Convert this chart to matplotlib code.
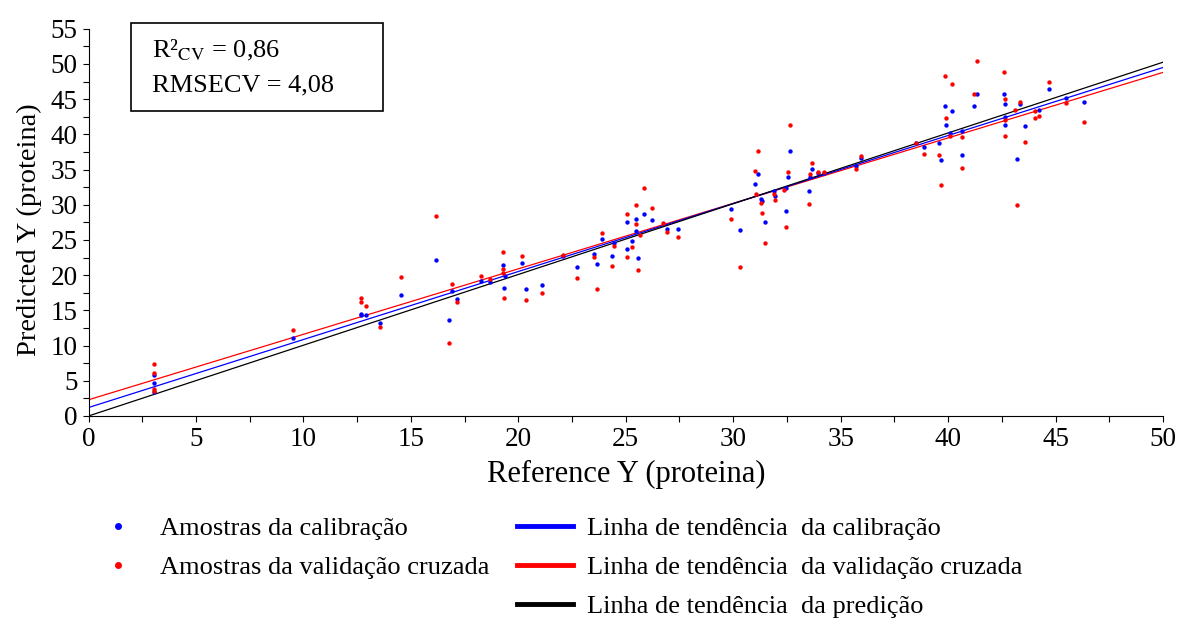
#!/usr/bin/env python3
import matplotlib
matplotlib.use('Agg')
import matplotlib.pyplot as plt
from matplotlib.lines import Line2D
from matplotlib.patches import Rectangle
import numpy as np

plt.rcParams['font.family'] = ['Liberation Serif', 'DejaVu Serif']
plt.rcParams['mathtext.fontset'] = 'stix'

# Amostras da calibracao (reference, predicted)
cal_x = [3.05, 3.05, 3.05, 9.5, 12.7, 12.7, 12.9, 13.56, 14.53, 16.16, 16.9, 16.77, 17.17,
         18.27, 18.7, 19.31, 19.39, 19.33, 20.18, 20.35, 21.1, 22.06, 22.74, 23.53, 23.68,
         23.9, 24.38, 24.46, 25.06, 25.06, 25.5, 25.48, 25.3, 25.56, 25.85, 26.2, 26.92, 27.43,
         29.9, 30.3, 31.15, 31.0, 31.3, 31.34, 31.5, 31.9, 31.95, 32.47, 32.47, 32.55, 32.66,
         33.53, 33.56, 33.65, 33.95, 34.22, 35.73, 35.96, 38.49, 38.9, 39.6, 39.65, 39.87, 40.2,
         39.9, 40.1, 40.67, 40.66, 41.34, 41.2, 42.6, 42.67, 42.67, 42.64, 43.19, 43.36, 43.57,
         44.22, 44.7, 45.47, 46.33]
cal_y = [5.8, 4.7, 3.4, 11.1, 14.5, 14.3, 14.3, 13.2, 17.2, 22.2, 17.8, 13.7, 16.6,
         19.2, 19.1, 21.4, 19.9, 18.2, 21.8, 18.1, 18.65, 22.7, 21.2, 23.0, 21.6,
         25.1, 22.7, 24.5, 27.5, 23.7, 28.0, 26.3, 24.8, 22.5, 28.65, 27.9, 26.6, 26.6,
         29.4, 26.4, 34.4, 33.0, 30.8, 30.6, 27.6, 31.9, 31.2, 32.4, 29.1, 34.0, 37.7,
         31.9, 34.0, 35.1, 34.5, 34.5, 35.55, 36.6, 38.8, 38.2, 38.8, 36.3, 44.0, 43.3,
         41.3, 40.2, 40.5, 37.1, 45.8, 44.0, 45.7, 44.3, 42.5, 41.4, 36.55, 44.3, 41.2,
         43.5, 46.4, 45.1, 44.6]

# Amostras da validacao cruzada
cv_x = [3.05, 3.05, 3.05, 3.05, 9.5, 12.7, 12.7, 12.9, 13.56, 14.53, 16.16, 16.9, 16.77, 17.17,
        18.27, 18.7, 19.31, 19.31, 19.31, 19.33, 20.18, 20.35, 21.1, 22.06, 22.74, 23.53, 23.68,
        23.9, 24.38, 24.46, 25.06, 25.06, 25.5, 25.48, 25.3, 25.56, 25.65, 25.85, 26.2, 26.72,
        26.92, 27.43, 29.9, 30.3, 31.15, 31.0, 31.05, 31.3, 31.33, 31.5, 31.9, 31.95, 32.36,
        32.47, 32.55, 32.66, 33.53, 33.56, 33.65, 33.95, 34.22, 35.73, 35.96, 38.49, 38.9, 39.6,
        39.65, 39.87, 40.2, 39.9, 40.1, 40.66, 40.66, 41.2, 41.34, 42.6, 42.67, 42.67, 42.64,
        43.1, 43.19, 43.36, 43.57, 44.04, 44.04, 44.22, 44.7, 45.47, 46.33]
cv_y = [7.4, 6.1, 3.8, 3.6, 12.2, 16.7, 16.2, 15.6, 12.7, 19.8, 28.4, 18.75, 10.4, 16.15,
        19.9, 19.4, 23.3, 20.9, 20.3, 16.8, 22.7, 16.5, 17.4, 22.9, 19.6, 22.6, 18.1,
        26.0, 21.3, 24.2, 28.65, 22.6, 29.9, 27.2, 24.0, 20.8, 25.7, 32.4, 29.5, 27.4,
        26.2, 25.4, 28.0, 21.2, 37.7, 34.75, 31.5, 30.2, 28.9, 24.5, 31.5, 30.7, 32.1,
        26.85, 34.6, 41.3, 30.1, 34.4, 35.9, 34.7, 34.6, 35.1, 36.9, 38.8, 37.2, 37.0,
        32.8, 48.25, 47.2, 42.3, 39.8, 39.6, 35.2, 45.8, 50.4, 48.9, 45.0, 42.1, 39.7,
        43.5, 30.0, 44.65, 38.9, 43.3, 42.3, 42.6, 47.4, 44.5, 41.7]

# Linhas de tendencia: (intercepto, inclinacao)
trend_cal = (1.2, 0.966)
trend_cv = (2.3, 0.93)
trend_pred = (0.0, 1.005)

fig = plt.figure(figsize=(11.79, 6.19), dpi=100)
ax = fig.add_axes([0.0751, 0.328, 0.9113, 0.6255])

xx = np.array([0, 50])
ax.plot(xx, trend_cv[0] + trend_cv[1] * xx, color='red', lw=0.9)
ax.plot(xx, trend_cal[0] + trend_cal[1] * xx, color='blue', lw=0.9)
ax.plot(xx, trend_pred[0] + trend_pred[1] * xx, color='black', lw=0.9)

ax.scatter(cal_x, cal_y, s=10, color='blue', linewidths=0, zorder=3)
ax.scatter(cv_x, cv_y, s=10, color='red', linewidths=0, zorder=3)

ax.set_xlim(0, 50)
ax.set_ylim(0, 55)
ax.set_xticks(np.arange(0, 51, 5))
ax.set_yticks(np.arange(0, 56, 5))
ax.set_xticks(np.arange(0, 50, 2.5), minor=True)
ax.set_yticks(np.arange(0, 55, 2.5), minor=True)
ax.tick_params(which='both', direction='out', length=4, width=0.8, labelsize=19.5)
ax.tick_params(axis='x', pad=4)
ax.tick_params(axis='y', pad=4)
for side in ['top', 'right']:
    ax.spines[side].set_visible(False)
for side in ['left', 'bottom']:
    ax.spines[side].set_linewidth(0.8)

ax.set_xlabel('Reference Y (proteina)', fontsize=22, labelpad=6)
ax.set_ylabel('Predicted Y (proteina)', fontsize=20.5)
ax.yaxis.set_label_coords(-0.043, 0.48)

# caixa com as estatisticas
fig.patches.append(Rectangle((0.111, 0.8207), 0.214, 0.1421, transform=fig.transFigure,
                             fill=False, edgecolor='black', lw=1.2))
fig.text(0.129, 0.919, r'R²$_{\mathrm{CV}}$ = 0,86', fontsize=19, va='center')
fig.text(0.129, 0.862, 'RMSECV = 4,08', fontsize=19, va='center')

handles = [
    Line2D([], [], ls='none', marker='o', ms=4, color='blue'),
    Line2D([], [], ls='none', marker='o', ms=4, color='red'),
    Line2D([], [], ls='none', marker=None, color='none'),
    Line2D([], [], color='blue', lw=3.5),
    Line2D([], [], color='red', lw=3.5),
    Line2D([], [], color='black', lw=3.5),
]
labels = ['Amostras da calibração', 'Amostras da validação cruzada', '',
          'Linha de tendência  da calibração', 'Linha de tendência  da validação cruzada',
          'Linha de tendência  da predição']
fig.legend(handles, labels, ncol=2, loc='upper left', bbox_to_anchor=(0.0763, 0.165),
           frameon=False, fontsize=19, handlelength=2.12, handletextpad=0.53,
           columnspacing=1.05, labelspacing=0.59, borderpad=0, borderaxespad=0)

plt.savefig('out.png', dpi=100)
